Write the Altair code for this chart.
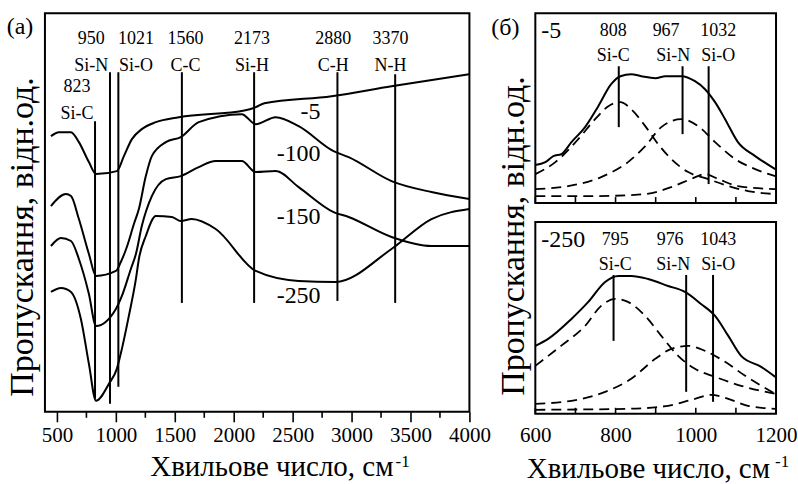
import altair as alt
import pandas as pd

FONT = "Liberation Serif, Times New Roman, serif"

# ---------------- Left panel (a): spectra, transmission in arbitrary units ----------------
wn_m5 = [449, 517, 619, 686, 771, 831, 1008, 1068, 1136, 1220, 1339, 1534, 2100, 2187, 2260, 2831, 3339, 4000]
tr_m5 = [276, 280, 280, 270, 250, 238, 241, 256, 273, 283, 290, 295, 302, 305, 309, 316, 326, 338]

wn_m100 = [449, 576, 619, 686, 771, 831, 1000, 1042, 1093, 1153, 1195, 1254, 1305, 1424, 1551, 1703,
           2068, 2187, 2356, 2551, 2847, 2975, 3339, 3678, 4000]
tr_m100 = [206, 218, 216, 193, 158, 136, 141, 150, 165, 188, 203, 236, 256, 270, 275, 290,
           298, 288, 295, 286, 261, 255, 231, 220, 213]

wn_m150 = [449, 534, 619, 686, 771, 831, 1000, 1051, 1127, 1170, 1220, 1305, 1424, 1551, 1703, 1847,
           2068, 2187, 2356, 2551, 2847, 2975, 3339, 3678, 4000]
tr_m150 = [166, 174, 171, 153, 118, 86, 103, 116, 143, 158, 186, 216, 233, 236, 245, 251,
           251, 240, 241, 225, 200, 195, 175, 166, 166]

wn_m250 = [449, 534, 619, 703, 771, 831, 941, 1008, 1051, 1110, 1170, 1195, 1254, 1339, 1475, 1551,
           1644, 1847, 2187, 2551, 2864, 3339, 3678, 4000]
tr_m250 = [120, 124, 120, 93, 48, 11, 28, 43, 63, 96, 133, 153, 176, 196, 195, 191,
           193, 183, 141, 131, 130, 163, 193, 203]

left_series = [("-5", wn_m5, tr_m5), ("-100", wn_m100, tr_m100),
               ("-150", wn_m150, tr_m150), ("-250", wn_m250, tr_m250)]

# band markers (a)
band_wn = [823, 950, 1021, 1560, 2173, 2880, 3370]
band_top = [291, 340, 340, 340, 340, 340, 338]
band_bot = [13, 8, 25, 109, 109, 111, 109]
band_num = ["823", "950", "1021", "1560", "2173", "2880", "3370"]
band_name = ["Si-C", "Si-N", "Si-O", "C-C", "Si-H", "C-H", "N-H"]
band_lab_x = [670, 790, 1170, 1590, 2155, 2845, 3331]
band_num_y = [325, 373, 373, 373, 373, 373, 373]
band_name_y = [298, 346, 346, 346, 346, 346, 346]

curve_lab = ["-5", "-100", "-150", "-250"]
curve_lab_x = [2737, 2737, 2737, 2737]
curve_lab_y = [300, 258, 195, 116]

left_ticks = [500, 1000, 1500, 2000, 2500, 3000, 3500, 4000]
left_minor = [750, 1250, 1750, 2250, 2750, 3250, 3750]

# ---------------- Right panels (б): deconvolution ----------------
# top: -5
t_sum_x = [600, 625, 645, 665, 690, 724, 757, 789, 812, 839, 864, 899, 924, 964, 998, 1023, 1048, 1073, 1105, 1148, 1198]
t_sum_y = [38, 41, 47, 49, 61, 76, 97, 119, 127, 129, 127, 125, 127, 127, 122, 114, 101, 84, 61, 47, 34]
t_sic_x = [600, 650, 707, 749, 782, 812, 839, 874, 906, 939, 981, 1031, 1081, 1130, 1198]
t_sic_y = [29, 41, 64, 84, 97, 101, 94, 77, 59, 44, 31, 24, 17, 12, 9]
t_sin_x = [600, 682, 764, 831, 874, 914, 964, 1006, 1048, 1098, 1148, 1198]
t_sin_y = [14, 17, 26, 41, 57, 76, 84, 77, 61, 44, 34, 27]
t_sio_x = [600, 749, 874, 939, 988, 1023, 1056, 1105, 1198]
t_sio_y = [7, 7, 9, 16, 24, 29, 24, 17, 14]

t_band_wn = [808, 967, 1032]
t_band_top = [137, 137, 137]
t_band_bot = [76, 69, 19]
t_band_num = ["808", "967", "1032"]
t_band_name = ["Si-C", "Si-N", "Si-O"]
t_lab_num_x = [794, 926, 1056]
t_lab_name_x = [794, 944, 1056]

# bottom: -250
b_sum_x = [600, 632, 690, 732, 774, 807, 839, 881, 931, 973, 1013, 1048, 1081, 1113, 1163, 1198]
b_sum_y = [68, 75, 95, 112, 132, 138, 138, 135, 128, 122, 110, 98, 78, 58, 47, 37]
b_sic_x = [600, 664, 724, 764, 799, 831, 874, 914, 956, 998, 1048, 1113, 1198]
b_sic_y = [48, 68, 88, 108, 115, 112, 98, 78, 58, 45, 37, 28, 20]
b_sin_x = [600, 690, 774, 839, 899, 939, 981, 1023, 1073, 1123, 1198]
b_sin_y = [10, 13, 22, 35, 55, 65, 68, 63, 52, 38, 20]
b_sio_x = [600, 831, 931, 998, 1038, 1081, 1130, 1198]
b_sio_y = [4, 5, 8, 15, 19, 15, 8, 5]

b_band_wn = [795, 976, 1043]
b_band_top = [139, 139, 139]
b_band_bot = [73, 22, 12]
b_band_num = ["795", "976", "1043"]
b_band_name = ["Si-C", "Si-N", "Si-O"]
b_lab_num_x = [799, 936, 1056]
b_lab_name_x = [799, 944, 1056]

right_ticks = [600, 700, 800, 900, 1000, 1100, 1200]
right_labels = [600, 800, 1000, 1200]

# ---------------- sizes ----------------
LW, LH = 425, 399
RW, RTH, RBH = 241, 190, 192


def curves_df(series):
    rows = []
    for name, xs, ys in series:
        for x, y in zip(xs, ys):
            rows.append({"s": name, "x": x, "y": y})
    return pd.DataFrame(rows)


def X(xsc, xax):
    if xax is None:
        return alt.X("x:Q", scale=xsc, axis=None)
    return alt.X("x:Q", scale=xsc, axis=xax)


def text_layer(df, xsc, ysc, xax, size, align="center", baseline="middle"):
    return alt.Chart(df).mark_text(font=FONT, fontSize=size, color="black",
                                   align=align, baseline=baseline).encode(
        x=X(xsc, xax),
        y=alt.Y("y:Q", scale=ysc, axis=None),
        text="t:N")


def fixed_text(t, x, y, size, angle=0, align="center", baseline="middle"):
    kw = dict(font=FONT, fontSize=size, color="black", align=align, baseline=baseline)
    if angle:
        kw["angle"] = angle
    return alt.Chart(pd.DataFrame({"t": [t]})).mark_text(**kw).encode(
        x=alt.value(x), y=alt.value(y), text="t:N")


# ---------- left chart ----------
xl = alt.Scale(domain=[398, 4000], nice=False, zero=False)
yl = alt.Scale(domain=[0, 399], nice=False, zero=False)
xl_axis = alt.Axis(values=left_ticks, format="d", title=None, grid=False, domain=False,
                   tickSize=10, tickWidth=1.6, tickColor="black", labelFontSize=21,
                   labelFont=FONT, labelColor="black", labelPadding=3, labelFlush=False)

left_lines = alt.Chart(curves_df(left_series)).mark_line(
    color="black", strokeWidth=2, interpolate="monotone").encode(
    x=X(xl, xl_axis), y=alt.Y("y:Q", scale=yl, axis=None), detail="s:N")

left_rules = alt.Chart(pd.DataFrame({"x": band_wn, "y": band_top, "y2": band_bot})).mark_rule(
    color="black", strokeWidth=2).encode(
    x=X(xl, xl_axis), y=alt.Y("y:Q", scale=yl, axis=None), y2="y2:Q")

left_minor_ticks = alt.Chart(pd.DataFrame({"x": left_minor})).mark_rule(
    color="black", strokeWidth=1.6).encode(
    x=X(xl, xl_axis), y=alt.value(LH), y2=alt.value(LH + 6))

left_nums = text_layer(pd.DataFrame({"x": band_lab_x, "y": band_num_y, "t": band_num}), xl, yl, xl_axis, 18)
left_names = text_layer(pd.DataFrame({"x": band_lab_x, "y": band_name_y, "t": band_name}), xl, yl, xl_axis, 18)
left_curve_labels = text_layer(pd.DataFrame({"x": curve_lab_x, "y": curve_lab_y, "t": curve_lab}),
                               xl, yl, xl_axis, 24, align="right")

left = alt.layer(
    left_lines, left_rules, left_minor_ticks, left_nums, left_names, left_curve_labels,
    fixed_text("(a)", -25, 14, 24),
    fixed_text("Пропускання, відн.од.", -22, 224, 34, angle=270),
    fixed_text("Хвильове число, см", 349, 463, 29, align="right", baseline="alphabetic"),
    fixed_text("-1", 351, 454, 17, align="left", baseline="alphabetic"),
).properties(width=LW, height=LH)

# ---------- right charts ----------
xr = alt.Scale(domain=[600, 1200], nice=False, zero=False)


def right_panel(h, sum_x, sum_y, comps, bands, top, bot, nums, names, num_x, name_x,
                num_y, name_y, tag, with_axis):
    yr = alt.Scale(domain=[0, h], nice=False, zero=False)
    if with_axis:
        xax = alt.Axis(values=right_labels, format="d", title=None, grid=False, domain=False,
                       ticks=False, labelFontSize=21, labelFont=FONT, labelColor="black",
                       labelPadding=11, labelFlush=False)
    else:
        xax = None
    solid = alt.Chart(pd.DataFrame({"x": sum_x, "y": sum_y})).mark_line(
        color="black", strokeWidth=2, interpolate="monotone").encode(
        x=X(xr, xax), y=alt.Y("y:Q", scale=yr, axis=None))
    dashed = alt.Chart(curves_df(comps)).mark_line(
        color="black", strokeWidth=1.8, strokeDash=[10, 6], interpolate="monotone").encode(
        x=X(xr, xax), y=alt.Y("y:Q", scale=yr, axis=None), detail="s:N")
    rules = alt.Chart(pd.DataFrame({"x": bands, "y": top, "y2": bot})).mark_rule(
        color="black", strokeWidth=2).encode(
        x=X(xr, xax), y=alt.Y("y:Q", scale=yr, axis=None), y2="y2:Q")
    ticks = alt.Chart(pd.DataFrame({"x": right_ticks})).mark_rule(
        color="black", strokeWidth=1.6).encode(
        x=X(xr, xax), y=alt.value(h - 6), y2=alt.value(h))
    tn = text_layer(pd.DataFrame({"x": num_x, "y": [num_y] * len(nums), "t": nums}), xr, yr, xax, 18)
    tm = text_layer(pd.DataFrame({"x": name_x, "y": [name_y] * len(names), "t": names}), xr, yr, xax, 18)
    tg = text_layer(pd.DataFrame({"x": [615], "y": [num_y], "t": [tag]}), xr, yr, xax, 24, align="left")
    return [solid, dashed, rules, ticks, tn, tm, tg]


top_layers = right_panel(RTH, t_sum_x, t_sum_y,
                         [("c", t_sic_x, t_sic_y), ("n", t_sin_x, t_sin_y), ("o", t_sio_x, t_sio_y)],
                         t_band_wn, t_band_top, t_band_bot, t_band_num, t_band_name,
                         t_lab_num_x, t_lab_name_x, 172, 147, "-5", False)
top = alt.layer(*top_layers,
                fixed_text("(б)", -30, 15, 24),
                fixed_text("Пропускання, відн.од.", -21, 223, 34, angle=270),
                ).properties(width=RW, height=RTH)

bot_layers = right_panel(RBH, b_sum_x, b_sum_y,
                         [("c", b_sic_x, b_sic_y), ("n", b_sin_x, b_sin_y), ("o", b_sio_x, b_sio_y)],
                         b_band_wn, b_band_top, b_band_bot, b_band_num, b_band_name,
                         b_lab_num_x, b_lab_name_x, 174, 149, "-250", True)
bottom = alt.layer(*bot_layers,
                   fixed_text("Хвильове число, см", 235, 256, 29, align="right", baseline="alphabetic"),
                   fixed_text("-1", 240, 245, 17, align="left", baseline="alphabetic"),
                   ).properties(width=RW, height=RBH)

right = alt.vconcat(top, bottom, spacing=19, bounds="flush")

chart = alt.hconcat(left, right, spacing=66, bounds="flush").properties(
    padding={"left": 4, "top": 12, "right": 0, "bottom": 0}
).configure(font=FONT, background="white").configure_view(stroke="black", strokeWidth=2)

chart.save("out.html", embed_options={"renderer": "svg", "actions": False})
